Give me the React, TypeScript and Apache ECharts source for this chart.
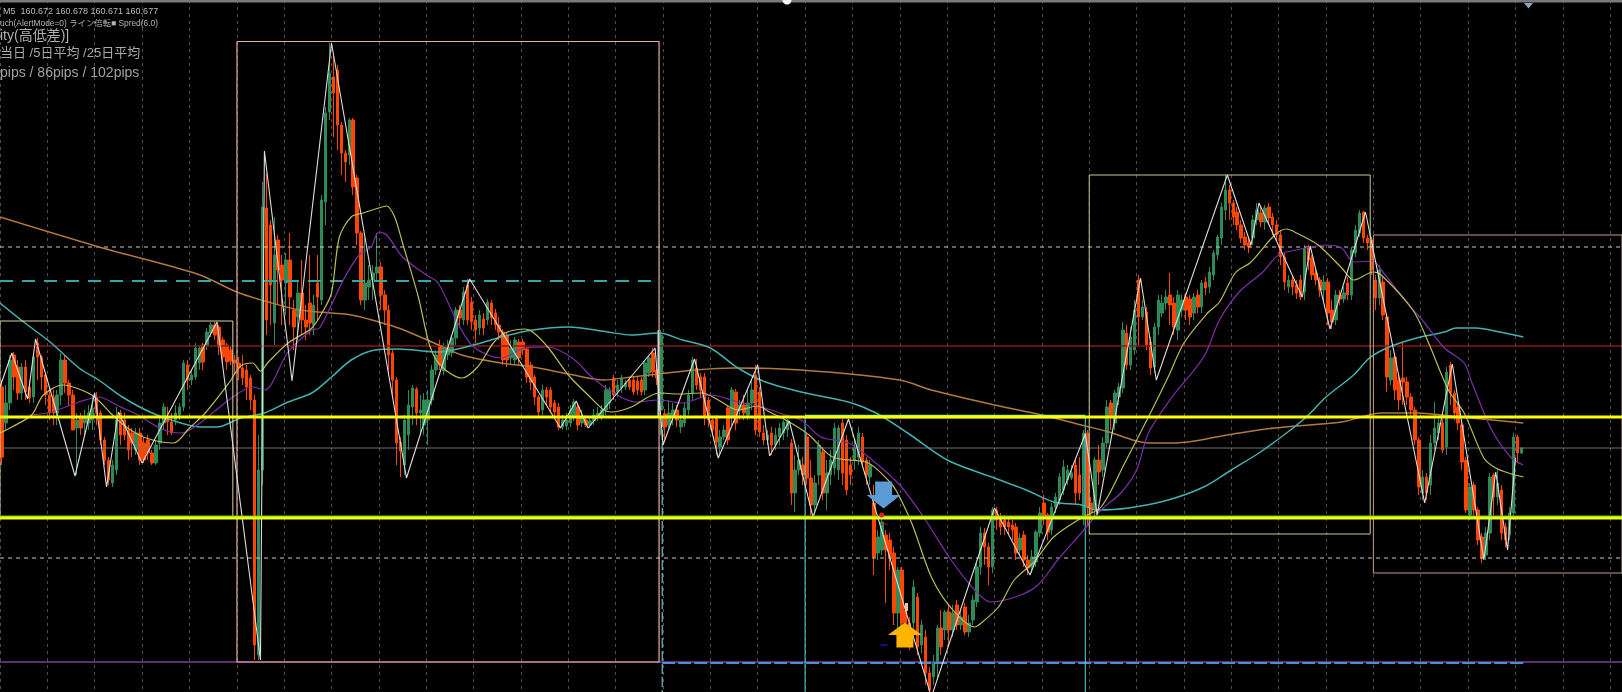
import React, { useEffect, useRef } from "react";
import * as echarts from "echarts";

// All prices are in points above 160.000 (160.677 -> 677). X positions of overlays are in M5 bars.
const TOTAL_BARS = 411;
const HOURLY_BARS = 12;
const PRICE_MIN = 433;
const PRICE_MAX = 1125;

// [open, close, low, high]
const candles0 = [
  [738,668,660,745],[702,722,695,740],[722,765,715,770],[770,748,735,773],[758,732,725,765],[732,758,725,762],[758,733,725,765],[738,727,722,745],[728,768,722,772],[782,768,745,787],
  [768,748,735,770],[750,730,720,752],[730,712,705,737],[728,712,700,735],[712,730,700,735],[730,765,720,772],[765,742,732,770],[742,730,720,745],[730,695,695,735],[697,705,650,712],
  [708,697,690,712],[702,708,690,715],[702,712,695,720],[705,717,695,730],[727,712,700,733],[712,685,680,715],[685,665,660,688],[665,645,640,668],[642,660,638,665],[655,705,650,718],
  [712,690,680,715],[705,690,685,712],[695,675,665,700],[692,682,668,697],[675,692,670,697],[692,665,660,697],[682,665,662,687],[685,672,665,690],[672,662,660,675],[662,680,660,685],
  [682,702,675,710],[702,718,695,722],[707,703,690,718],[703,692,690,712],[705,712,700,720],[710,718,705,722],[718,762,714,765],[760,745,735,765],[745,750,740,755],[748,777,745,782],
  [762,777,755,780],[780,763,755,782],[780,793,775,797],[792,800,788,803],[800,790,785,803],[798,778,770,800],[785,768,760,788],[780,763,755,782],[775,764,760,778],[765,762,750,770],
  [762,757,745,768],[757,747,740,770],[755,738,725,760],[747,725,715,750],[725,480,465,730],[470,655,465,690],[655,918,640,943],[917,805,790,952],[900,840,800,905],[802,870,780,908],
  [885,855,820,890],[860,845,800,870],[842,865,810,872],[865,828,800,892],[815,798,775,825],[808,832,785,845],[832,805,790,865],[805,798,785,820],[822,802,790,870],[800,820,790,830],
  [842,828,805,870],[825,925,820,930],[923,1012,900,1018],[1013,1052,1005,1082],[1048,1032,988,1070],[1055,1000,975,1060],[1000,972,950,1003],[972,963,943,975],[970,1005,960,1007],[1005,938,930,1007],
  [947,892,880,950],[892,825,820,894],[825,842,815,887],[838,845,825,860],[845,852,825,860],[852,858,845,892],[858,830,815,863],[830,815,800,835],[815,770,750,820],[772,745,730,775],
];
const candles1 = [
  [745,682,660,748],[683,674,648,688],[660,705,650,710],[690,720,675,735],[718,737,700,740],[736,712,700,738],[712,715,690,730],[700,725,690,732],[705,725,680,735],[725,755,720,760],
  [755,770,750,775],[778,760,755,785],[754,777,750,782],[770,778,765,785],[772,787,768,790],[787,815,780,818],[815,807,800,820],[805,833,800,838],[840,805,800,846],[823,803,795,828],
  [805,795,782,810],[797,810,790,815],[806,797,790,812],[805,823,800,826],[822,807,800,825],[812,800,795,816],[800,793,785,808],[793,765,760,796],[790,765,758,793],[767,777,760,785],
  [765,785,760,788],[783,767,760,786],[783,775,770,786],[776,748,742,778],[760,743,735,763],[748,728,720,750],[728,713,708,730],[715,735,710,740],[735,728,720,738],[735,718,712,738],
  [722,713,708,725],[718,698,695,722],[698,705,695,710],[699,705,695,712],[702,715,698,720],[708,723,704,726],[718,700,695,722],[702,708,698,715],[705,700,698,710],[700,704,697,708],
  [704,710,700,716],[708,712,704,718],[708,715,705,720],[715,735,710,740],[722,735,716,738],[747,730,725,750],[733,740,728,745],[737,747,732,750],[738,742,735,745],[745,738,735,748],
  [745,733,730,748],[744,735,730,748],[745,733,730,748],[735,762,730,765],[752,767,748,770],[772,753,748,777],[755,747,740,760],[715,790,690,795],[711,698,685,716],[700,712,695,725],
  [708,715,700,722],[715,705,698,720],[698,705,692,710],[702,717,698,722],[715,730,710,735],[732,765,725,768],[757,740,735,766],[748,735,728,752],[748,708,700,752],[725,705,698,728],
  [705,695,690,708],[707,683,670,710],[678,688,670,695],[688,695,685,700],[717,685,680,720],[708,735,700,738],[733,702,695,736],[715,720,705,725],[720,712,705,730],[710,722,705,735],
  [722,735,715,745],[750,695,690,760],[733,693,688,738],[692,685,680,700],[685,690,680,695],[692,680,670,698],[680,690,675,697],[688,697,680,702],[692,703,685,705],[695,705,688,706],
];
const candles2 = [
  [682,632,620,686],[632,655,613,670],[655,665,650,680],[660,650,640,668],[688,647,640,692],[647,620,610,665],[620,642,610,650],[650,680,640,685],[673,632,625,678],[632,652,615,665],
  [650,665,640,675],[657,697,650,702],[655,697,645,700],[702,652,640,706],[685,635,630,690],[660,650,640,668],[665,678,655,685],[668,692,660,698],[688,663,660,692],[665,650,640,668],
  [648,660,640,665],[622,568,550,640],[572,588,565,595],[575,603,570,610],[590,575,522,595],[585,568,555,592],[572,512,500,578],[512,555,495,558],[555,502,495,558],[515,502,490,520],
  [502,490,475,508],[502,538,490,545],[528,478,470,532],[480,500,472,505],[488,452,440,495],[452,435,425,458],[448,462,440,470],[462,497,445,500],[497,478,470,515],[495,513,485,515],
  [513,495,480,520],[495,512,488,520],[520,500,495,525],[500,508,495,515],[518,493,490,522],[493,502,488,510],[505,525,500,530],[523,558,518,562],[558,592,550,598],[592,578,560,597],
  [578,558,540,582],[558,615,552,618],[615,605,595,618],[607,598,590,612],[605,598,590,610],[603,598,590,607],[600,595,585,605],[598,572,565,602],[575,587,570,592],[590,565,558,594],
  [565,557,550,570],[558,568,552,575],[563,593,558,595],[592,612,588,618],[622,607,600,630],[610,593,585,612],[595,618,590,622],[618,628,612,632],[625,648,620,652],[635,658,630,665],
  [645,655,640,660],[647,652,645,660],[660,632,620,665],[650,632,625,668],[610,692,600,695],[692,618,600,695],[622,612,605,628],[615,665,608,668],[665,653,640,680],[655,682,648,688],
  [682,718,678,725],[722,708,695,725],[702,732,695,735],[728,738,720,742],[737,795,732,803],[792,760,755,800],[760,788,755,798],[775,815,770,825],[845,808,780,850],[808,818,805,825],
  [813,780,775,818],[783,757,750,788],[758,798,752,802],[798,825,790,830],[812,822,808,830],[822,828,815,835],[830,820,800,852],[822,798,790,828],[795,830,785,835],[815,825,808,830],
];
const candles3 = [
  [828,815,805,832],[826,808,800,830],[812,828,805,832],[830,818,812,835],[818,842,812,845],[843,837,830,848],[838,853,832,858],[850,872,845,875],[870,888,865,890],[887,918,880,922],
  [915,935,905,950],[935,922,905,940],[922,908,900,925],[913,900,895,918],[900,887,882,905],[888,880,875,893],[882,878,872,888],[887,905,880,910],[905,915,900,922],[912,903,898,918],
  [903,917,895,920],[918,907,900,922],[908,900,890,912],[900,890,885,905],[890,868,860,895],[868,843,835,872],[838,845,832,850],[845,838,830,850],[840,832,826,845],[845,828,825,850],
  [833,877,825,880],[877,865,855,880],[867,850,845,870],[852,845,840,855],[845,835,828,848],[835,843,825,850],[843,812,800,847],[815,803,796,825],[805,830,800,835],[830,826,820,835],
  [826,832,822,838],[842,830,825,848],[830,875,825,878],[872,895,868,900],[892,912,888,915],[913,887,882,914],[887,882,875,890],[885,855,850,888],[845,827,815,850],[827,855,820,860],
  [843,810,805,848],[808,748,733,812],[745,767,740,775],[768,735,725,772],[745,725,715,750],[747,743,720,782],[743,728,720,748],[728,715,708,732],[715,685,680,718],[685,638,630,688],
  [632,648,625,655],[648,632,625,652],[640,682,630,690],[682,697,675,723],[692,702,685,708],[702,675,672,706],[678,753,670,758],[760,732,720,763],[732,712,705,735],[718,702,695,722],
  [700,663,655,703],[665,615,612,668],[610,638,605,642],[640,615,610,643],[615,585,580,618],[588,567,562,592],[570,592,565,598],[592,648,585,652],[650,628,610,652],[628,642,620,655],
  [635,592,585,640],[598,585,578,602],[590,612,585,618],[612,688,605,692],[688,672,662,690],[672,677,671,678],
];
const barLabels = Array.from({ length: TOTAL_BARS }, (_, i) => String(i));

// [bar, price]
const zigzag = [[0,738],[3,772],[7,726],[9,786],[19,649],[24,732],[27,638],[30,713],[36,662],[55,803],[66,465],[67,974],[74,744],[84,1082],[103,647],[119,846],[142,697],[146,724],[149,697],[166,777],[168,680],[176,766],[182,667],[192,760],[195,669],[200,704],[206,608],[215,706],[236,428],[252,617],[261,550],[275,691],[278,610],[289,847],[293,745],[311,950],[317,880],[319,922],[330,828],[332,879],[337,796],[346,913],[361,622],[368,761],[376,565],[379,653],[382,575],[384,667]];
const maFast = [[0,692],[3,698],[8,710],[11,730],[16,740],[20,736],[24,728],[28,712],[32,698],[37,687],[44,682],[48,697],[52,712],[58,742],[61,759],[64,762],[66,754],[68,763],[73,782],[79,797],[82,815],[84,832],[86,888],[89,908],[92,912],[96,917],[98,919],[100,908],[102,882],[106,828],[109,778],[112,758],[117,747],[121,758],[125,782],[128,792],[133,796],[135,793],[139,777],[144,750],[149,730],[153,715],[155,713],[160,718],[167,732],[172,731],[178,732],[182,725],[187,715],[192,719],[195,713],[200,703],[205,690],[211,668],[220,662],[225,645],[227,635],[231,602],[236,548],[241,517],[247,498],[248,500],[253,518],[257,545],[262,563],[267,588],[274,607],[279,618],[285,662],[291,708],[296,748],[300,782],[306,812],[309,823],[313,852],[317,863],[323,890],[326,896],[329,891],[334,880],[340,857],[343,845],[348,853],[350,850],[358,815],[362,782],[367,735],[371,712],[376,667],[379,657],[383,651],[386,648]];
const maMid = [[8,710],[13,713],[20,723],[25,728],[30,719],[35,710],[41,696],[46,692],[50,700],[58,725],[64,738],[67,735],[73,773],[79,795],[81,797],[87,845],[91,870],[94,878],[96,893],[98,890],[102,868],[108,850],[111,842],[116,802],[120,778],[127,767],[133,777],[139,778],[145,767],[150,748],[155,733],[161,723],[167,725],[173,722],[180,730],[187,723],[193,718],[199,710],[203,705],[208,688],[215,682],[221,665],[228,640],[234,608],[241,565],[247,535],[251,523],[258,529],[263,540],[268,565],[274,592],[279,615],[284,632],[288,655],[291,692],[297,728],[305,768],[309,805],[314,833],[320,853],[324,870],[331,877],[336,880],[340,877],[343,863],[348,864],[350,855],[357,820],[361,802],[366,777],[371,762],[373,742],[378,695],[383,667],[386,660]];
const maSlow = [[0,822],[6,803],[13,782],[20,757],[25,745],[31,728],[38,713],[45,703],[51,698],[55,698],[61,707],[67,712],[73,723],[79,732],[84,748],[89,765],[95,775],[101,776],[111,773],[120,780],[127,788],[135,795],[144,798],[154,793],[160,790],[167,792],[173,785],[180,777],[187,757],[194,743],[203,733],[215,723],[222,712],[230,692],[240,665],[252,647],[260,635],[267,623],[274,620],[278,615],[286,617],[296,625],[305,638],[312,655],[319,672],[326,692],[331,708],[336,728],[343,750],[347,767],[352,778],[359,787],[366,793],[369,797],[374,797],[380,793],[386,788]];
const maLong = [[0,908],[26,877],[50,851],[60,833],[68,823],[76,815],[89,810],[96,803],[101,797],[110,782],[117,770],[127,762],[135,758],[144,751],[153,745],[160,748],[167,751],[176,755],[186,757],[203,755],[228,745],[236,735],[252,720],[264,710],[274,700],[281,693],[287,685],[291,682],[298,682],[311,690],[323,697],[340,703],[344,707],[350,712],[359,712],[370,708],[386,702]];

// [left bar, right bar, top price, bottom price]
const boxOldRange = [0, 59, 804, 608];
const boxPinkRange = [60.05, 167, 1083.5, 463];
const boxPaleRange = [276, 347.2, 950, 591];
const boxLastRange = [348, 411, 890, 552];

// horizontal levels
const levelYellow = 708;
const levelLime = 607;
const levelRed = 779;
const levelGray = 677;
const levelDotUpper = 878;
const levelDotLower = 567;
const levelTeal = 844;
const levelPurple = 463;
const levelBlue = 462;

// vertical markers, bars
const cyanBars = [204, 275];
const dashedCyanBar = 167.8;

const infoLines = [
  "M5  160.672 160.678 160.671 160.677",
  "uch(AlertMode=0) ライン倍転■ Spred(6.0)",
  "ity(高低差)]",
  "当日 /5日平均 /25日平均",
  "pips / 86pips / 102pips",
];

const seg = (points: number[][], color: string, width: number, z: number, type: any = "solid", smooth: number | boolean = false) => ({
  type: "line",
  xAxisIndex: 1,
  yAxisIndex: 0,
  data: points,
  showSymbol: false,
  symbol: "none",
  silent: true,
  animation: false,
  z,
  clip: true,
  smooth,
  lineStyle: { color, width, type, cap: "butt" },
});

const hline = (v: number, from: number, to: number, color: string, width: number, z: number, type: any = "solid") =>
  seg([[from, v], [to, v]], color, width, z, type);

const box = (b: number[], color: string, width: number, z: number) =>
  seg([[b[0], b[2]], [b[1], b[2]], [b[1], b[3]], [b[0], b[3]], [b[0], b[2]]], color, width, z);

const mark = (bar: number, v: number, symbol: string, size: any, color: string) => ({
  type: "scatter",
  xAxisIndex: 1,
  yAxisIndex: 0,
  data: [[bar, v]],
  symbol,
  symbolSize: size,
  silent: true,
  z: 20,
  itemStyle: { color, opacity: 1 },
});

export default function App() {
  const ref = useRef<HTMLDivElement>(null);
  useEffect(() => {
    document.body.style.margin = "0";
    document.body.style.background = "#000";
    const chart = echarts.init(ref.current!, undefined, { renderer: "svg" });
    const candleData = [...candles0, ...candles1, ...candles2, ...candles3];
    const infoFont = "'Liberation Sans', 'Noto Sans CJK JP', sans-serif";
    chart.setOption({
      animation: false,
      backgroundColor: "#000000",
      grid: { left: 0, right: 0, top: 0, bottom: 0, containLabel: false },
      xAxis: [
        {
          type: "category",
          data: barLabels,
          boundaryGap: true,
          axisLine: { show: false },
          axisTick: { show: false },
          axisLabel: { show: false },
          splitLine: { show: false },
        },
        {
          type: "value",
          min: 0,
          max: TOTAL_BARS,
          interval: HOURLY_BARS,
          axisLine: { show: false },
          axisTick: { show: false },
          axisLabel: { show: false },
          splitLine: { show: true, lineStyle: { color: "#505050", width: 1, type: [3, 4] } },
        },
      ],
      yAxis: {
        type: "value",
        min: PRICE_MIN,
        max: PRICE_MAX,
        axisLine: { show: false },
        axisTick: { show: false },
        axisLabel: { show: false },
        splitLine: { show: false },
      },
      series: [
        hline(levelPurple, 0, TOTAL_BARS, "#7a3fa0", 1.5, 2),
        {
          type: "candlestick",
          xAxisIndex: 0,
          yAxisIndex: 0,
          data: candleData,
          barWidth: 3,
          silent: true,
          clip: true,
          z: 3,
          itemStyle: { color: "#2e8b57", color0: "#ff4500", borderColor: "#2e8b57", borderColor0: "#ff4500", borderWidth: 1 },
        },
        hline(levelRed, 0, TOTAL_BARS, "#8b1a1a", 1.5, 4),
        hline(levelGray, 0, TOTAL_BARS, "#70707a", 1, 4),
        hline(levelDotUpper, 0, TOTAL_BARS, "#c8c8c8", 1, 4, [4, 4]),
        hline(levelDotLower, 0, TOTAL_BARS, "#c8c8c8", 1, 4, [4, 4]),
        hline(levelTeal, 0, 165.5, "#35a5a5", 2, 4, [13, 9]),
        hline(levelBlue, 167.8, 386, "#4a90d9", 2, 4, [13, 3]),
        seg([[cyanBars[0], levelYellow], [cyanBars[0], PRICE_MIN]], "#4fd8e0", 1, 5),
        seg([[cyanBars[1], levelYellow], [cyanBars[1], PRICE_MIN]], "#4fd8e0", 1, 5),
        seg([[dashedCyanBar, levelYellow], [dashedCyanBar, PRICE_MIN]], "#7fe8f0", 1, 5, [10, 3]),
        seg([[dashedCyanBar - 1, 795], [dashedCyanBar - 1, levelYellow]], "#b8f0f0", 1.5, 5),
        seg(maLong, "#b07a40", 1.5, 6, "solid", 0.3),
        seg(maSlow, "#45b0b0", 1.5, 6, "solid", 0.3),
        seg(maMid, "#7d2fa8", 1.2, 6, "solid", 0.3),
        seg(maFast, "#bcbc58", 1.2, 6, "solid", 0.3),
        box(boxOldRange, "#d8d4a0", 1, 7),
        box(boxPinkRange, "#e8b0a0", 1.2, 7),
        box(boxPaleRange, "#c8c890", 1, 7),
        box(boxLastRange, "#c89a88", 1, 7),
        seg(zigzag, "#dedede", 1.1, 8),
        hline(levelYellow + 0.5, cyanBars[0], cyanBars[1], "#80e8a8", 3.5, 9),
        hline(levelYellow, 0, TOTAL_BARS, "#ffff00", 3, 10),
        hline(levelLime + 1.5, 0, TOTAL_BARS, "#66cc00", 2, 9),
        hline(levelLime, 0, TOTAL_BARS, "#eaff1a", 3, 10),
        mark(223.9, 630, "path://M25 0H75V50H100L50 100L0 50H25Z", [34, 27], "#5b9bd5"),
        mark(229.3, 490, "path://M50 0L100 50H75V100H25V50H0Z", [34, 25], "#ffb400"),
        mark(223.4, 610, "circle", 5, "#e02020"),
        mark(224, 480, "rect", [7, 2], "#101080"),
        mark(229.7, 518, "rect", [3, 8], "#e8c8a0"),
        mark(224, 601, "rect", [7, 1], "#a02020"),
      ],
      graphic: [
        { type: "rect", z: 25, shape: { x: 0, y: 0, width: 1622, height: 2.6 }, style: { fill: "#7a7a7a" } },
        { type: "circle", z: 26, shape: { cx: 787, cy: 0, r: 4.5 }, style: { fill: "#f4f4f4" } },
        { type: "polygon", z: 26, shape: { points: [[1524, 3], [1533, 3], [1528.5, 8.5]] }, style: { fill: "#8fa4b8" } },
        { type: "text", left: 3, top: 6.2, z: 30, style: { text: infoLines[0], fill: "#bcbcbc", font: `9px ${infoFont}`, lineHeight: 9 } },
        { type: "text", left: 0, top: 18.3, z: 30, style: { text: infoLines[1], fill: "#b4b4b4", font: `8.4px ${infoFont}`, lineHeight: 8.4 } },
        { type: "text", left: 0, top: 28, z: 30, style: { text: infoLines[2], fill: "#b0b0b0", font: `14px ${infoFont}`, lineHeight: 14 } },
        { type: "text", left: 0, top: 46, z: 30, style: { text: infoLines[3], fill: "#a8a8a8", font: `13px ${infoFont}`, lineHeight: 13 } },
        { type: "text", left: 0, top: 65, z: 30, style: { text: infoLines[4], fill: "#a0a0a0", font: `14px ${infoFont}`, lineHeight: 14 } },
      ],
    });
    return () => chart.dispose();
  }, []);
  return <div ref={ref} style={{ position: "absolute", left: 0, top: 0, width: 1622, height: 692, background: "#000", filter: "blur(0.4px)" }} />;
}
